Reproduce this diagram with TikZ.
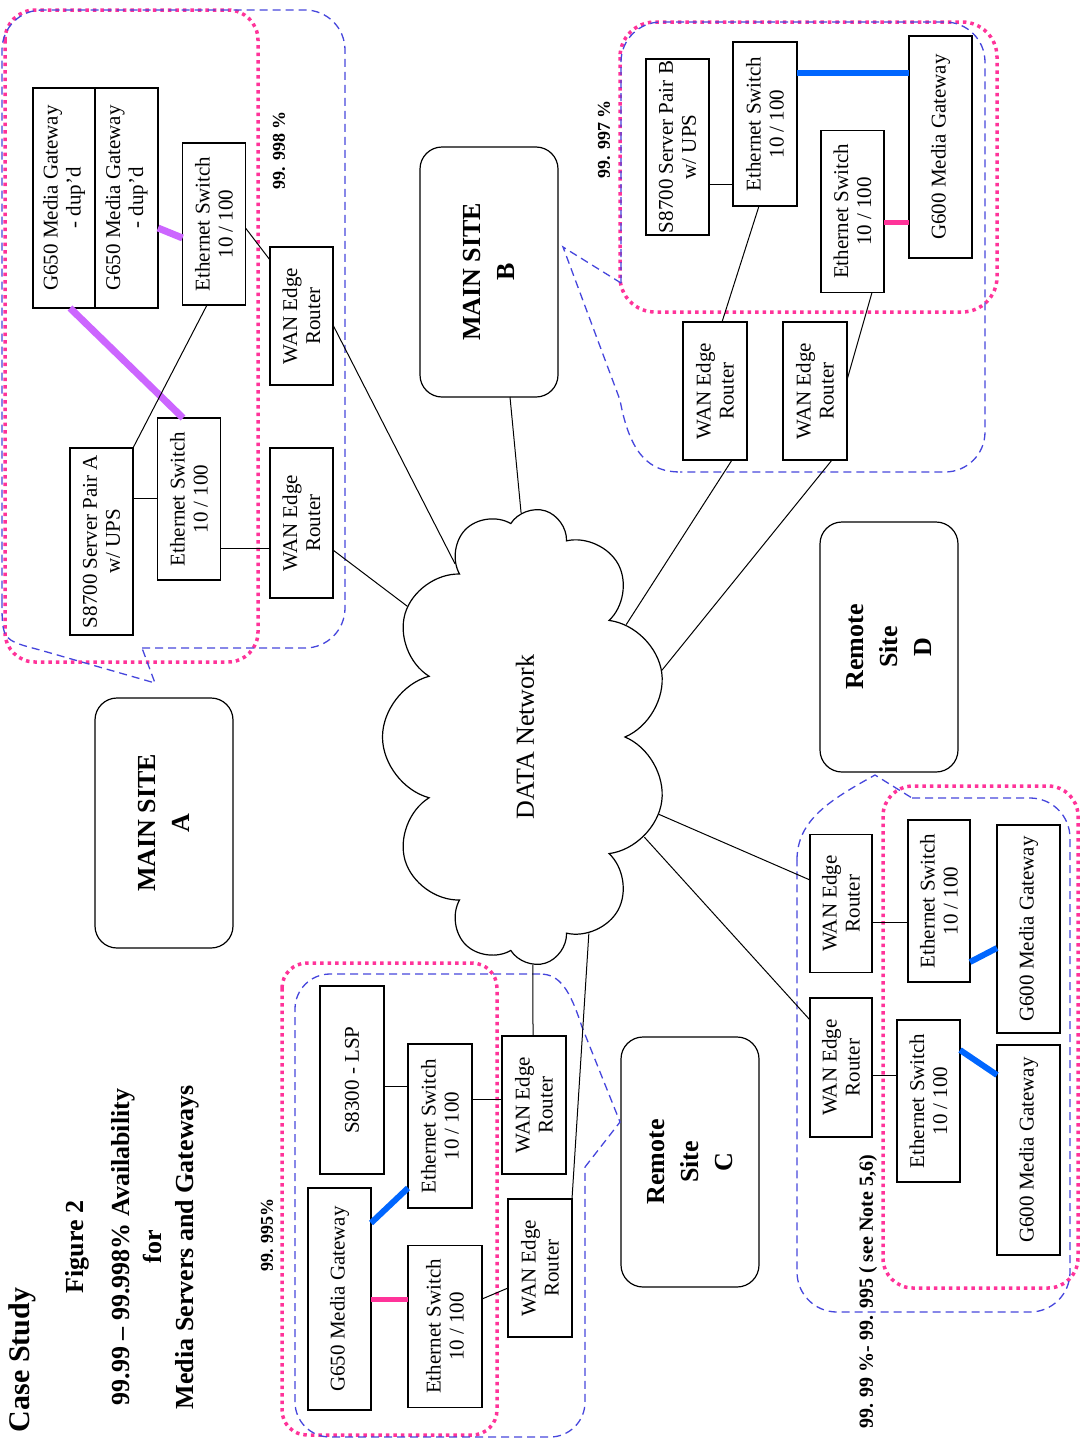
\documentclass[tikz,border=0pt]{standalone}
\usepackage{fontspec}
\setmainfont{Liberation Serif}
\usepackage{tikz}
\usetikzlibrary{shapes.symbols}
\definecolor{dotpink}{RGB}{255,51,153}
\definecolor{dashblue}{RGB}{70,70,220}
\definecolor{linkblue}{RGB}{0,102,255}
\definecolor{linkpink}{RGB}{255,51,153}
\definecolor{linkpurple}{RGB}{204,102,255}

\begin{document}
\begin{tikzpicture}[x=1pt, y=-1pt, line width=1pt,
    box/.style={draw, line width=1.2pt, rotate=90, inner sep=0pt, outer sep=0pt,
        align=center, font=\fontsize{21}{23}\selectfont},
    router/.style={box, minimum width=138pt, minimum height=63pt},
    switch/.style={box, minimum width=162pt, minimum height=63pt},
    site/.style={box, rounded corners=22pt, minimum width=250pt, minimum height=138pt,
        font=\bfseries\fontsize{26}{34}\selectfont},
    pct/.style={rotate=90, inner sep=0pt, font=\bfseries\fontsize{18}{20}\selectfont},
    pinkdot/.style={draw=dotpink, line width=3.5pt, dash pattern=on 3.5pt off 4pt},
    bluedash/.style={draw=dashblue, line width=1.3pt, dash pattern=on 8pt off 5pt},
    purp/.style={draw=linkpurple, line width=7pt},
    blu/.style={draw=linkblue, line width=6pt},
    pnk/.style={draw=linkpink, line width=5pt}]
    \useasboundingbox (0,0) rectangle (1082,1440);

    % Titolo
    \node[rotate=90, font=\bfseries\fontsize{30}{32}\selectfont] (case) at (22,1360) {Case Study};
    \node[rotate=90, align=center, font=\bfseries\fontsize{26}{32}\selectfont] (title) at (132,1247)
        {Figure 2\\[14pt]99.99 -- 99.998\% Availability\\for\\Media Servers and Gateways};

    % Rete
    \node[cloud, draw, line width=1.2pt, cloud puffs=11, cloud ignores aspect,
        minimum width=457pt, minimum height=285pt, rotate=90,
        font=\fontsize{26}{28}\selectfont] (net) at (525,737) {DATA Network};

    % Main site A
    \node[box, minimum width=220pt, minimum height=62pt] (gA1) at (64,198) {G650 Media Gateway\\- dup'd};
    \node[box, minimum width=220pt, minimum height=63pt] (gA2) at (126.5,198) {G650 Media Gateway\\- dup'd};
    \node[switch] (swA1) at (214,224) {Ethernet Switch\\10 / 100};
    \node[router] (rA1) at (301.5,316) {WAN Edge\\Router};
    \node[box, minimum width=187pt, minimum height=63pt] (sA) at (101.5,541.5) {S8700 Server Pair A\\w/ UPS};
    \node[switch] (swA2) at (189,499) {Ethernet Switch\\10 / 100};
    \node[router, minimum width=150pt] (rA2) at (301.5,523) {WAN Edge\\Router};
    \node[site] (sitA) at (164,823) {MAIN SITE\\A};
    \node[pct] (pctA) at (279,150) {99. 998 \%};

    % Main site B
    \node[site] (sitB) at (489,272) {MAIN SITE\\B};
    \node[box, minimum width=176pt, minimum height=63pt] (sB) at (677.5,147) {S8700 Server Pair B\\w/ UPS};
    \node[switch, minimum width=164pt, minimum height=64pt] (swB1) at (765,124) {Ethernet Switch\\10 / 100};
    \node[switch] (swB2) at (852.5,211.5) {Ethernet Switch\\10 / 100};
    \node[box, minimum width=222pt, minimum height=63pt] (gB) at (940.5,147) {G600 Media Gateway};
    \node[router, minimum height=64pt] (rB1) at (715,391) {WAN Edge\\Router};
    \node[router, minimum height=64pt] (rB2) at (815,391) {WAN Edge\\Router};
    \node[pct] (pctB) at (604,139) {99. 997 \%};

    % Remote site C
    \node[box, minimum width=188pt, minimum height=64pt] (sC) at (352,1080) {S8300 - LSP};
    \node[switch, minimum width=164pt, minimum height=64pt] (swC1) at (440,1126) {Ethernet Switch\\10 / 100};
    \node[box, minimum width=222pt, minimum height=63pt] (gC) at (339.5,1299) {G650 Media Gateway};
    \node[switch, minimum height=74pt] (swC2) at (445,1326.5) {Ethernet Switch\\10 / 100};
    \node[router, minimum height=64pt] (rC1) at (534,1105) {WAN Edge\\Router};
    \node[router, minimum height=64pt] (rC2) at (540,1268) {WAN Edge\\Router};
    \node[site] (sitC) at (690,1162) {Remote\\Site\\C};
    \node[pct] (pctC) at (267,1235) {99. 995\%};

    % Remote site D
    \node[site] (sitD) at (889,647) {Remote\\Site\\D};
    \node[router, minimum height=62pt] (rD1) at (841,903.5) {WAN Edge\\Router};
    \node[router, minimum width=139pt, minimum height=62pt] (rD2) at (841,1067.5) {WAN Edge\\Router};
    \node[switch, minimum height=62pt] (swD1) at (939,901) {Ethernet Switch\\10 / 100};
    \node[switch] (swD2) at (928.5,1101) {Ethernet Switch\\10 / 100};
    \node[box, minimum width=208pt, minimum height=63pt] (gD1) at (1028.5,929) {G600 Media Gateway};
    \node[box, minimum width=210pt, minimum height=63pt] (gD2) at (1028.5,1150) {G600 Media Gateway};
    \node[pct, font=\bfseries\fontsize{20}{22}\selectfont] (pctD) at (868,1292) {99. 99 \%- 99. 995 ( see Note 5,6)};

    % Contorni
    \draw[pinkdot, rounded corners=30pt] (5,10) rectangle (258,662);
    \draw[bluedash, rounded corners=40pt] (142,648) -- (345,648) -- (345,10) -- (2,10) -- (2,600);
    \draw[bluedash] (2,600) .. controls (2,640) .. (40,650) -- (155,683) -- (142,648);

    \draw[pinkdot, rounded corners=35pt] (620,22) rectangle (997,312);
    \draw[bluedash, rounded corners=40pt] (621,283) -- (621,22) -- (985,22) -- (985,472) -- (680,472);
    \draw[bluedash] (621,283) -- (563,247) -- (620,400) .. controls (630,455) and (650,472) .. (680,472);

    \draw[pinkdot, rounded corners=25pt] (282,963) rectangle (497,1435);
    \draw[bluedash, rounded corners=35pt] (540,974) -- (295,974) -- (295,1437) -- (585,1437) -- (585,1167);
    \draw[bluedash] (585,1167) -- (620,1122) -- (582,1027) .. controls (570,990) and (560,974) .. (540,974);

    \draw[pinkdot, rounded corners=30pt] (883,786) rectangle (1078,1288);
    \draw[bluedash, rounded corners=40pt] (912,798) -- (1070,798) -- (1070,1312) -- (797,1312) -- (797,860);
    \draw[bluedash] (797,860) .. controls (797,820) and (830,800) .. (875,775) -- (912,798);

    % Collegamenti sito A
    \draw[purp] (gA2.south |- 0,228) -- (swA1.north |- 0,238);
    \draw[purp] (gA1.west -| 70,0) -- (swA2.east -| 183,0);
    \draw (swA1.west -| 207,0) -- (sA.south east);
    \draw (sA.south |- 0,498) -- (swA2.north |- 0,498);
    \draw (swA2.south |- 0,548) -- (rA2.north |- 0,548);
    \draw (swA1.south |- 0,228) -- (rA1.north |- 0,260);
    \draw (rA1.south |- 0,325) -- (net.22);
    \draw (rA2.south |- 0,550) -- (net.42);

    % Collegamenti sito B
    \draw (sitB.west -| 510,0) -- (net.1);
    \draw[blu] (swB1.south |- 0,73) -- (gB.north |- 0,73);
    \draw[pnk] (swB2.south |- 0,222) -- (gB.north |- 0,222);
    \draw (sB.south |- 0,184) -- (swB1.north |- 0,184);
    \draw (swB1.west -| 759,0) -- (rB1.east -| 722,0);
    \draw (swB2.west -| 872,0) -- (rB2.south |- 0,380);
    \draw (rB1.west -| 732,0) -- (net.-42);
    \draw (rB2.west -| 832,0) -- (net.-64);

    % Collegamenti sito C
    \draw[blu] (gC.south |- 0,1223) -- (swC1.north |- 0,1188);
    \draw[pnk] (gC.south |- 0,1299) -- (swC2.north |- 0,1299);
    \draw (sC.south |- 0,1086) -- (swC1.north |- 0,1086);
    \draw (swC1.south |- 0,1099) -- (rC1.north |- 0,1099);
    \draw (swC2.south |- 0,1299) -- (rC2.north |- 0,1288);
    \draw (net.182) -- (rC1.east -| 533,0);
    \draw (net.198) -- (rC2.south east);

    % Collegamenti sito D
    \draw[blu] (swD1.south |- 0,962) -- (gD1.north |- 0,948);
    \draw[blu] (swD2.south |- 0,1050) -- (gD2.north |- 0,1075);
    \draw (rD1.south |- 0,922) -- (swD1.north |- 0,922);
    \draw (rD2.south |- 0,1075) -- (swD2.north |- 0,1075);
    \draw (net.240) -- (rD1.north |- 0,880);
    \draw (net.230) -- (rD2.north |- 0,1020);
\end{tikzpicture}
\end{document}
